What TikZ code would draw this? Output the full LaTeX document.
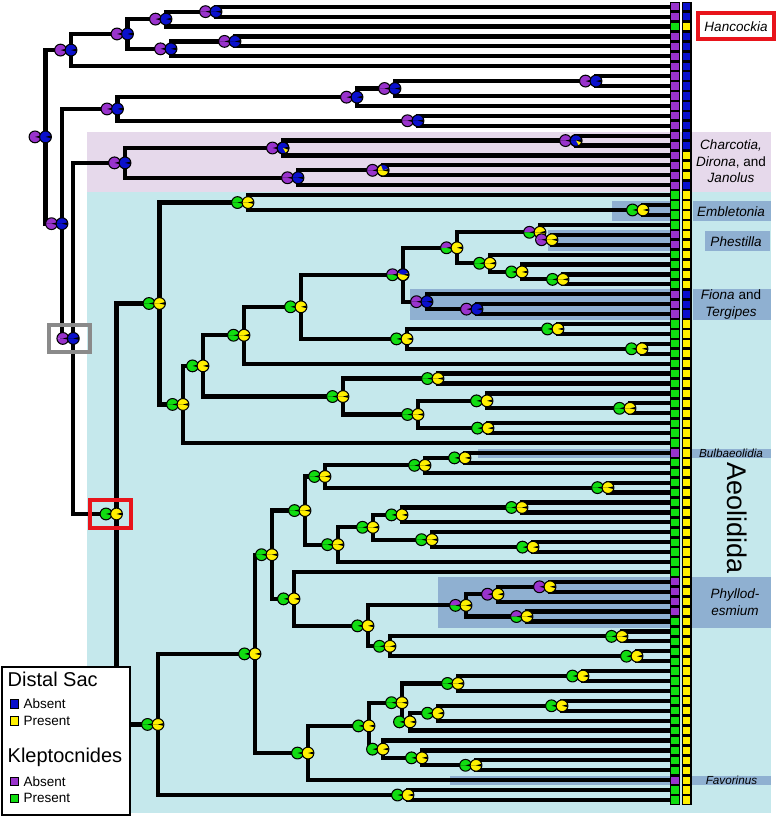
\documentclass[tikz,border=0pt]{standalone}
\usepackage{fontspec}
\setmainfont{Liberation Sans}
\usetikzlibrary{calc}
\definecolor{kp}{HTML}{9933CC}
\definecolor{kg}{HTML}{11DD11}
\definecolor{db}{HTML}{0A10CC}
\definecolor{dy}{HTML}{FFF000}
\definecolor{lavbg}{HTML}{E6D9EB}
\definecolor{cybg}{HTML}{C5E8EC}
\definecolor{bandc}{HTML}{8FB0D1}
\definecolor{boxred}{HTML}{E8141B}
\definecolor{boxgray}{HTML}{8A8A8A}
\newcommand\onepie[3]{%
  \fill[#2] (#1-5.9,0) arc[start angle=180,end angle=360,radius=5.9] -- cycle;
  \fill[#3] (#1+5.9,0) arc[start angle=0,end angle=180,radius=5.9] -- cycle;
  \fill[black] (#1,0) -- ++(-14:5.9) arc[start angle=-14,end angle=14,radius=5.9] -- cycle;
  \draw[line width=1.05] (#1,0) circle[radius=5.9];}
\newcommand\mypair[5]{\begin{scope}[shift={(#1)}]\onepie{-10.5}{#2}{#3}\onepie{0}{#4}{#5}\end{scope}}
\newcommand\xwedge[5]{\begin{scope}[shift={(#1)}]\fill[#3] (#2,0) -- ++(#4:5.9) arc[start angle=#4,end angle=#5,radius=5.9] -- cycle;\draw[line width=1.05] (#2,0) circle[radius=5.9];\end{scope}}
\begin{document}
\begin{tikzpicture}[x=1pt,y=-1pt,
  tree/.style={line width=4.2,line join=miter},
  ksq/.style={draw,line width=1.3,minimum size=8.6pt,inner sep=0pt,outer sep=0pt},
  lsq/.style={draw,line width=1.1,minimum size=8.4pt,inner sep=0pt},
  lab/.style={font=\fontsize{13.5}{16.5}\selectfont,inner sep=0pt,align=center},
  leg/.style={anchor=west,inner sep=0pt,font=\fontsize{13.5}{16}\selectfont},
  legh/.style={anchor=west,inner sep=0pt,font=\fontsize{20}{24}\selectfont}]
\useasboundingbox (0,0) rectangle (778,818);
% backgrounds
\fill[lavbg] (87,132) rectangle (771,192);
\fill[cybg] (87,192) rectangle (771,813);
\fill[bandc] (612,201) rectangle (670,221.5);
\fill[bandc] (693,201) rectangle (771,221.5);
\fill[bandc] (548,230) rectangle (670,250.5);
\fill[bandc] (705,231) rectangle (770,251);
\fill[bandc] (410,289) rectangle (670,320);
\fill[bandc] (693,289) rectangle (771,320);
\fill[bandc] (478,448.5) rectangle (670,458);
\fill[bandc] (692,448.5) rectangle (771,458);
\fill[bandc] (438,577) rectangle (670,628);
\fill[bandc] (692,577) rectangle (771,628);
\fill[bandc] (450,775.5) rectangle (670,785);
\fill[bandc] (692,775.5) rectangle (771,785);
% tip state squares
\foreach \i/\a/\b in {0/kp/db,1/kp/db,2/kg/dy,3/kp/db,4/kp/db,5/kp/db,6/kp/db,7/kp/db,8/kp/db,9/kp/db,10/kp/db,11/kp/db,12/kp/db,13/kp/db,14/kp/db,15/kp/dy,16/kp/dy,17/kp/dy,18/kp/db,19/kg/dy,20/kg/dy,21/kg/dy,22/kg/dy,23/kp/dy,24/kp/dy,25/kg/dy,26/kg/dy,27/kg/dy,28/kg/dy,29/kp/db,30/kp/db,31/kp/db,32/kg/dy,33/kg/dy,34/kg/dy,35/kg/dy,36/kg/dy,37/kg/dy,38/kg/dy,39/kg/dy,40/kg/dy,41/kg/dy,42/kg/dy,43/kg/dy,44/kg/dy,45/kp/dy,46/kg/dy,47/kg/dy,48/kg/dy,49/kg/dy,50/kg/dy,51/kg/dy,52/kg/dy,53/kg/dy,54/kg/dy,55/kg/dy,56/kg/dy,57/kg/dy,58/kp/dy,59/kp/dy,60/kp/dy,61/kp/dy,62/kg/dy,63/kg/dy,64/kg/dy,65/kg/dy,66/kg/dy,67/kg/dy,68/kg/dy,69/kg/dy,70/kg/dy,71/kg/dy,72/kg/dy,73/kg/dy,74/kg/dy,75/kg/dy,76/kg/dy,77/kg/dy,78/kp/dy,79/kg/dy,80/kg/dy}{
  \node[ksq,fill=\a] (k\i) at (675,{6.7+9.916*\i}) {};
  \node[ksq,fill=\b] (d\i) at (686.8,{6.7+9.916*\i}) {};
}
% internal nodes
\coordinate (R) at (45.5,136.89);
\coordinate (N6) at (71,50.08);
\coordinate (N5) at (127.5,33.97);
\coordinate (N2) at (166,19.10);
\coordinate (N1) at (216,11.66);
\coordinate (N4) at (171,48.84);
\coordinate (N3) at (235,41.41);
\coordinate (M) at (62,223.70);
\coordinate (P) at (117.5,108.96);
\coordinate (Q) at (357,97.18);
\coordinate (S) at (395,88.51);
\coordinate (S1) at (596,81.07);
\coordinate (P2) at (418,120.74);
\coordinate (G) at (73.3,338.43);
\coordinate (T) at (125,162.88);
\coordinate (T1) at (283,148.00);
\coordinate (T1a) at (576,140.57);
\coordinate (T2) at (298,177.75);
\coordinate (T2a) at (383,170.32);
\coordinate (Aeol) at (116.5,513.97);
\coordinate (U) at (159.5,303.49);
\coordinate (V1) at (248,202.54);
\coordinate (Emb) at (643,209.98);
\coordinate (W) at (183,404.44);
\coordinate (X) at (203,365.89);
\coordinate (Z) at (244,335.25);
\coordinate (Z1) at (301,306.81);
\coordinate (Z1a) at (403,274.74);
\coordinate (Ph) at (457,247.78);
\coordinate (Ph1) at (540,232.29);
\coordinate (Ph1a) at (552,239.73);
\coordinate (Ph2) at (490,263.28);
\coordinate (Ph2b) at (522,271.95);
\coordinate (Ph2a) at (563,279.39);
\coordinate (F) at (427,301.70);
\coordinate (Fa) at (477,309.14);
\coordinate (Z1b) at (407,338.89);
\coordinate (Z1b1) at (558,328.97);
\coordinate (Z1b2) at (642,348.80);
\coordinate (Y) at (343,396.52);
\coordinate (Y1) at (438,378.55);
\coordinate (Y2) at (418,414.50);
\coordinate (Y2a) at (487,400.86);
\coordinate (Y2a1) at (630,408.30);
\coordinate (Y2b) at (488,428.13);
\coordinate (L) at (158,724.45);
\coordinate (L1) at (255,653.88);
\coordinate (L1a) at (272,554.71);
\coordinate (A1) at (305,510.56);
\coordinate (A1a) at (325,476.47);
\coordinate (A1a1) at (425,465.32);
\coordinate (Bu) at (465,457.88);
\coordinate (A1a2) at (608,487.63);
\coordinate (A1b) at (338,544.64);
\coordinate (A1b1) at (373,527.29);
\coordinate (B1) at (402,514.90);
\coordinate (B1a) at (522,507.46);
\coordinate (B2) at (432,539.68);
\coordinate (B2a) at (533,547.12);
\coordinate (A2) at (294,598.87);
\coordinate (C) at (368,625.83);
\coordinate (PH) at (466,605.38);
\coordinate (PH1) at (498,594.22);
\coordinate (PH1a) at (550,586.79);
\coordinate (PH2) at (527,616.53);
\coordinate (C2) at (390,646.28);
\coordinate (C2a) at (622,636.37);
\coordinate (C2b) at (637,656.20);
\coordinate (L1b) at (308,753.04);
\coordinate (D) at (369,725.92);
\coordinate (D1) at (402,702.68);
\coordinate (D1a) at (458,683.47);
\coordinate (D1a1) at (583,676.03);
\coordinate (D1b) at (410,721.89);
\coordinate (D1b1) at (438,713.22);
\coordinate (D1b1a) at (562,705.78);
\coordinate (D2) at (383,749.16);
\coordinate (D2b) at (422,757.84);
\coordinate (D2b1) at (476,765.28);
\coordinate (L2) at (408,795.02);
% branches
\draw[tree] (R) |- (N6) (R) |- (M);
\draw[tree] (N6) |- (N5) (N6) |- (k6.west);
\draw[tree] (N5) |- (N2) (N5) |- (N4);
\draw[tree] (N2) |- (N1) (N2) |- (k2.west);
\draw[tree] (N1) |- (k0.west) (N1) |- (k1.west);
\draw[tree] (N4) |- (N3) (N4) |- (k5.west);
\draw[tree] (N3) |- (k3.west) (N3) |- (k4.west);
\draw[tree] (M) |- (P) (M) |- (G);
\draw[tree] (P) |- (Q) (P) |- (P2);
\draw[tree] (Q) |- (S) (Q) |- (k10.west);
\draw[tree] (S) |- (S1) (S) |- (k9.west);
\draw[tree] (S1) |- (k7.west) (S1) |- (k8.west);
\draw[tree] (P2) |- (k11.west) (P2) |- (k12.west);
\draw[tree] (G) |- (T) (G) |- (Aeol);
\draw[tree] (T) |- (T1) (T) |- (T2);
\draw[tree] (T1) |- (T1a) (T1) |- (k15.west);
\draw[tree] (T1a) |- (k13.west) (T1a) |- (k14.west);
\draw[tree] (T2) |- (T2a) (T2) |- (k18.west);
\draw[tree] (T2a) |- (k16.west) (T2a) |- (k17.west);
\draw[tree] (Aeol) |- (U) (Aeol) |- (L);
\draw[tree] (U) |- (V1) (U) |- (W);
\draw[tree] (V1) |- (k19.west) (V1) |- (Emb);
\draw[tree] (Emb) |- (k20.west) (Emb) |- (k21.west);
\draw[tree] (W) |- (X) (W) |- (k44.west);
\draw[tree] (X) |- (Z) (X) |- (Y);
\draw[tree] (Z) |- (Z1) (Z) |- (k36.west);
\draw[tree] (Z1) |- (Z1a) (Z1) |- (Z1b);
\draw[tree] (Z1a) |- (Ph) (Z1a) |- (F);
\draw[tree] (Ph) |- (Ph1) (Ph) |- (Ph2);
\draw[tree] (Ph1) |- (k22.west) (Ph1) |- (Ph1a);
\draw[tree] (Ph1a) |- (k23.west) (Ph1a) |- (k24.west);
\draw[tree] (Ph2) |- (k25.west) (Ph2) |- (Ph2b);
\draw[tree] (Ph2b) |- (k26.west) (Ph2b) |- (Ph2a);
\draw[tree] (Ph2a) |- (k27.west) (Ph2a) |- (k28.west);
\draw[tree] (F) |- (k29.west) (F) |- (Fa);
\draw[tree] (Fa) |- (k30.west) (Fa) |- (k31.west);
\draw[tree] (Z1b) |- (Z1b1) (Z1b) |- (Z1b2);
\draw[tree] (Z1b1) |- (k32.west) (Z1b1) |- (k33.west);
\draw[tree] (Z1b2) |- (k34.west) (Z1b2) |- (k35.west);
\draw[tree] (Y) |- (Y1) (Y) |- (Y2);
\draw[tree] (Y1) |- (k37.west) (Y1) |- (k38.west);
\draw[tree] (Y2) |- (Y2a) (Y2) |- (Y2b);
\draw[tree] (Y2a) |- (k39.west) (Y2a) |- (Y2a1);
\draw[tree] (Y2a1) |- (k40.west) (Y2a1) |- (k41.west);
\draw[tree] (Y2b) |- (k42.west) (Y2b) |- (k43.west);
\draw[tree] (L) |- (L1) (L) |- (L2);
\draw[tree] (L1) |- (L1a) (L1) |- (L1b);
\draw[tree] (L1a) |- (A1) (L1a) |- (A2);
\draw[tree] (A1) |- (A1a) (A1) |- (A1b);
\draw[tree] (A1a) |- (A1a1) (A1a) |- (A1a2);
\draw[tree] (A1a1) |- (Bu) (A1a1) |- (k47.west);
\draw[tree] (Bu) |- (k45.west) (Bu) |- (k46.west);
\draw[tree] (A1a2) |- (k48.west) (A1a2) |- (k49.west);
\draw[tree] (A1b) |- (A1b1) (A1b) |- (k56.west);
\draw[tree] (A1b1) |- (B1) (A1b1) |- (B2);
\draw[tree] (B1) |- (B1a) (B1) |- (k52.west);
\draw[tree] (B1a) |- (k50.west) (B1a) |- (k51.west);
\draw[tree] (B2) |- (k53.west) (B2) |- (B2a);
\draw[tree] (B2a) |- (k54.west) (B2a) |- (k55.west);
\draw[tree] (A2) |- (k57.west) (A2) |- (C);
\draw[tree] (C) |- (PH) (C) |- (C2);
\draw[tree] (PH) |- (PH1) (PH) |- (PH2);
\draw[tree] (PH1) |- (PH1a) (PH1) |- (k60.west);
\draw[tree] (PH1a) |- (k58.west) (PH1a) |- (k59.west);
\draw[tree] (PH2) |- (k61.west) (PH2) |- (k62.west);
\draw[tree] (C2) |- (C2a) (C2) |- (C2b);
\draw[tree] (C2a) |- (k63.west) (C2a) |- (k64.west);
\draw[tree] (C2b) |- (k65.west) (C2b) |- (k66.west);
\draw[tree] (L1b) |- (D) (L1b) |- (k78.west);
\draw[tree] (D) |- (D1) (D) |- (D2);
\draw[tree] (D1) |- (D1a) (D1) |- (D1b);
\draw[tree] (D1a) |- (D1a1) (D1a) |- (k69.west);
\draw[tree] (D1a1) |- (k67.west) (D1a1) |- (k68.west);
\draw[tree] (D1b) |- (D1b1) (D1b) |- (k73.west);
\draw[tree] (D1b1) |- (D1b1a) (D1b1) |- (k72.west);
\draw[tree] (D1b1a) |- (k70.west) (D1b1a) |- (k71.west);
\draw[tree] (D2) |- (k74.west) (D2) |- (D2b);
\draw[tree] (D2b) |- (k75.west) (D2b) |- (D2b1);
\draw[tree] (D2b1) |- (k76.west) (D2b1) |- (k77.west);
\draw[tree] (L2) |- (k79.west) (L2) |- (k80.west);
% ancestral state pies
\foreach \n in {R,N6,N5,N2,N1,N4,N3,M,P,Q,S,S1,P2,G,T,T2,F,Fa,T1,T1a}{\mypair{\n}{kp}{kp}{db}{db}}
\xwedge{T1}{0}{dy}{20}{60}
\xwedge{T1a}{0}{dy}{20}{60}
\mypair{T2a}{kp}{kp}{dy}{dy}
\xwedge{T2a}{0}{db}{250}{340}
\foreach \n in {Aeol,U,V1,Emb,W,X,Z,Z1,Z1b,Z1b1,Z1b2,Y,Y1,Y2,Y2a,Y2a1,Y2b,Ph2,Ph2b,Ph2a,L,L1,L1a,A1,A1a,A1a1,Bu,A1a2,A1b,A1b1,B1,B1a,B2,B2a,A2,C,C2,C2a,C2b,L1b,D,D1,D1a,D1a1,D1b,D1b1,D1b1a,D2,D2b,D2b1,L2}{\mypair{\n}{kg}{kg}{dy}{dy}}
\foreach \n in {Z1a,Ph,Ph1,PH,PH2}{\mypair{\n}{kp}{kg}{dy}{dy}}
\xwedge{Z1a}{0}{db}{200}{340}
\foreach \n in {Ph1a,PH1,PH1a}{\mypair{\n}{kp}{kp}{dy}{dy}}
% highlight boxes
\draw[boxgray,line width=4] (48.7,324.7) rectangle (89.7,352);
\draw[boxred,line width=4] (90.3,499.7) rectangle (131.3,528);
\draw[boxred,line width=4] (698,13) rectangle (774,38.7);
% clade labels
\node[lab] (lhanc) at (736,26.5) {\textit{Hancockia}};
\node[lab] (lcharc) at (731,161.5) {\textit{Charcotia,}\\\textit{Dirona}, and\\\textit{Janolus}};
\node[lab] (lemb) at (731,211.5) {\textit{Embletonia}};
\node[lab] (lphes) at (736,241.5) {\textit{Phestilla}};
\node[lab] (lfiona) at (731,304.5) {\textit{Fiona} and\\\textit{Tergipes}};
\node[lab,font=\fontsize{11.7}{13}\selectfont] (lbulb) at (731,453.5) {\textit{Bulbaeolidia}};
\node[lab,rotate=-90,font=\fontsize{27}{30}\selectfont] (laeol) at (737,518) {Aeolidida};
\node[lab] (lphyl) at (735,602) {\textit{Phyllod-}\\\textit{esmium}};
\node[lab,font=\fontsize{11.7}{13}\selectfont] (lfav) at (731.5,780.5) {\textit{Favorinus}};
% legend
\draw[line width=2,fill=white] (2,667) rectangle (130,815);
\node[legh] (lg1) at (7.5,679.5) {Distal Sac};
\node[lsq,fill=db] (lgb) at (14.3,704) {};
\node[leg] (lgbt) at (23.5,704) {Absent};
\node[lsq,fill=dy] (lgy) at (14.3,721) {};
\node[leg] (lgyt) at (23.5,721) {Present};
\node[legh] (lg2) at (7.5,757.5) {Kleptocnides};
\node[lsq,fill=kp] (lgp) at (14.3,781.7) {};
\node[leg] (lgpt) at (23.5,781.7) {Absent};
\node[lsq,fill=kg] (lgg) at (14.3,798.3) {};
\node[leg] (lggt) at (23.5,798.3) {Present};
\end{tikzpicture}
\end{document}
